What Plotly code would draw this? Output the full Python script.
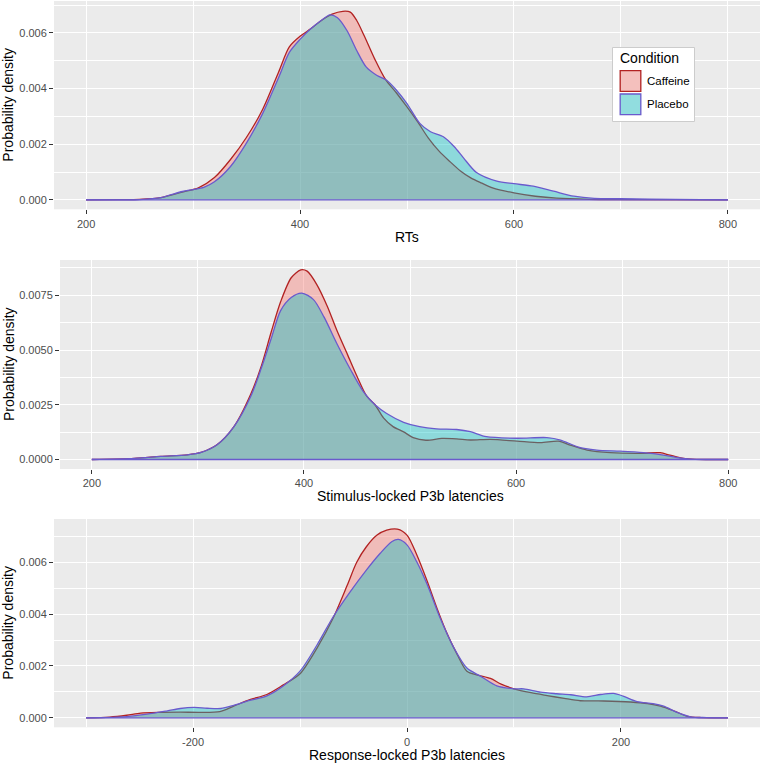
import plotly.graph_objects as go

# ---------------- data ----------------
rt_caf_x = [200, 230, 250, 270, 290, 305, 320, 335, 350, 365, 380, 390, 400, 410, 420, 430, 440, 447, 453, 460,
            470, 480, 490, 500, 510, 520, 530, 540, 550, 560, 570, 580, 600, 620, 640, 670, 700, 800]
rt_caf_y = [0, 0.00001, 0.00002, 0.00008, 0.00028, 0.00043, 0.0008, 0.00145, 0.00225, 0.00325, 0.0046, 0.0055,
            0.00588, 0.00615, 0.00645, 0.00668, 0.00678, 0.00675, 0.00645, 0.0059, 0.00505, 0.00432, 0.00385,
            0.00334, 0.0028, 0.00222, 0.00175, 0.00138, 0.00104, 0.00078, 0.0006, 0.00043, 0.00025, 0.00013,
            0.00006, 0.00002, 0.00001, 0]
rt_pla_x = [200, 250, 270, 290, 300, 310, 320, 335, 350, 365, 380, 390, 400, 410, 420, 428, 435, 444, 453, 462,
            472, 481, 490, 500, 512, 522, 534, 544, 553, 565, 584, 600, 618, 637, 656, 675, 700, 750, 800]
rt_pla_y = [0, 0.00001, 0.00008, 0.0003, 0.00037, 0.00045, 0.00065, 0.0012, 0.00205, 0.0031, 0.0044, 0.0053,
            0.00577, 0.00615, 0.00646, 0.00665, 0.00655, 0.00608, 0.00537, 0.00477, 0.00447, 0.0043, 0.00395,
            0.00346, 0.00275, 0.00245, 0.00227, 0.00192, 0.0015, 0.00098, 0.00067, 0.00058, 0.00049, 0.00031,
            0.00013, 0.00005, 0.00004, 0.00002, 0]

sl_caf_x = [200, 240, 265, 290, 303, 318, 334, 350, 360, 369, 378, 388, 397, 403, 412, 422, 431, 441, 450, 459,
            467, 475, 484, 494, 503, 515, 530, 544, 557, 576, 601, 623, 640, 651, 667, 689, 717, 736, 745, 758,
            770, 800]
sl_caf_y = [0, 0.00005, 0.00014, 0.00021, 0.00032, 0.00067, 0.0015, 0.003, 0.0043, 0.0058, 0.0072, 0.0083,
            0.00866, 0.0086, 0.008, 0.007, 0.0059, 0.0048, 0.0038, 0.0029, 0.0025, 0.0019, 0.0015, 0.00126,
            0.001, 0.00088, 0.00096, 0.00094, 0.00089, 0.00092, 0.00084, 0.00077, 0.00084, 0.00066, 0.00043,
            0.00031, 0.00028, 0.00031, 0.0002, 0.00005, 0.00001, 0]
sl_pla_x = [200, 240, 265, 290, 303, 318, 334, 350, 360, 369, 378, 388, 398, 409, 419, 431, 444, 456, 467, 478,
            494, 509, 525, 544, 557, 572, 601, 629, 642, 658, 676, 698, 720, 739, 752, 764, 800]
sl_pla_y = [0, 0.00005, 0.00014, 0.00021, 0.00032, 0.00067, 0.0015, 0.0029, 0.0042, 0.0055, 0.0068, 0.0074,
            0.0076, 0.0073, 0.0065, 0.0053, 0.0041, 0.0031, 0.0025, 0.0021, 0.0017, 0.0015, 0.0014, 0.00137,
            0.00127, 0.00104, 0.00097, 0.001, 0.00089, 0.00058, 0.00043, 0.00038, 0.00031, 0.0002, 0.00009,
            0.00002, 0]

rl_caf_x = [-300, -278, -262, -249, -231, -212, -194, -175, -162, -147, -131, -116, -100, -84, -69, -56, -47,
            -38, -28, -19, -9, 0, 9, 19, 28, 38, 47, 56, 66, 78, 88, 100, 116, 131, 147, 162, 184, 209, 225,
            237, 250, 262, 275, 300]
rl_caf_y = [0, 0.00003, 0.0001, 0.00018, 0.00021, 0.00022, 0.00021, 0.00024, 0.00045, 0.0007, 0.0009, 0.00126,
            0.0017, 0.0027, 0.00385, 0.0051, 0.006, 0.0066, 0.00705, 0.00724, 0.00728, 0.00705, 0.0063,
            0.00526, 0.00423, 0.0032, 0.00244, 0.0018, 0.00165, 0.00152, 0.0013, 0.00112, 0.00097, 0.00086,
            0.00075, 0.00066, 0.00065, 0.00061, 0.00055, 0.00045, 0.00026, 0.00006, 0.00001, 0]
rl_pla_x = [-300, -262, -243, -224, -212, -199, -187, -174, -162, -147, -131, -116, -100, -84, -69, -53, -38,
            -25, -14, -8, 0, 9, 19, 31, 44, 56, 69, 84, 100, 109, 125, 140, 153, 168, 181, 193, 202, 215, 230,
            240, 252, 265, 280, 300]
rl_pla_y = [0, 0.00005, 0.00014, 0.00027, 0.00036, 0.0004, 0.00037, 0.00036, 0.00048, 0.00067, 0.00085,
            0.00122, 0.0018, 0.00282, 0.0039, 0.00487, 0.0057, 0.00635, 0.0068, 0.00688, 0.00667, 0.00603,
            0.00513, 0.00385, 0.00269, 0.00192, 0.0016, 0.00123, 0.00112, 0.00112, 0.00099, 0.00093, 0.00089,
            0.00081, 0.0009, 0.00094, 0.00084, 0.00063, 0.00055, 0.00045, 0.00022, 0.00004, 0.00001, 0]

conditions = ["Caffeine", "Placebo"]
x_titles = ["RTs", "Stimulus-locked P3b latencies", "Response-locked P3b latencies"]
y_title = "Probability density"

# ---------------- styling ----------------
W, H = 761, 764
FILL = {"Caffeine": "rgba(248,118,109,0.4)", "Placebo": "rgba(0,191,196,0.4)"}
LINE = {"Caffeine": "#B22222", "Placebo": "#6A5ACD"}
FONT = "Liberation Sans, Arial, Helvetica, sans-serif"
BG = "#EBEBEB"


def px_x(p):
    return p / W


def px_y(p):
    return 1 - p / H


panels = [
    dict(series=[(rt_caf_x, rt_caf_y), (rt_pla_x, rt_pla_y)], dom_x=(54, 760), dom_y=(1, 209.3),
         xr=[170, 830], yr=[-0.00034, 0.00715], xt=[200, 400, 600, 800], xm=[300, 500, 700],
         yt=[0, 0.002, 0.004, 0.006], ym=[0.001, 0.003, 0.005, 0.007], yfmt=".3f", title_y=237),
    dict(series=[(sl_caf_x, sl_caf_y), (sl_pla_x, sl_pla_y)], dom_x=(60, 760), dom_y=(260, 469),
         xr=[170, 830], yr=[-0.000434, 0.00911], xt=[200, 400, 600, 800], xm=[300, 500, 700],
         yt=[0, 0.0025, 0.005, 0.0075], ym=[0.00125, 0.00375, 0.00625, 0.00875], yfmt=".4f", title_y=495.5),
    dict(series=[(rl_caf_x, rl_caf_y), (rl_pla_x, rl_pla_y)], dom_x=(54, 760), dom_y=(519, 727.3),
         xr=[-330, 330], yr=[-0.000365, 0.00767], xt=[-200, 0, 200], xm=[-300, -100, 100, 300],
         yt=[0, 0.002, 0.004, 0.006], ym=[0.001, 0.003, 0.005, 0.007], yfmt=".3f", title_y=754.5),
]

fig = go.Figure()
layout = dict(width=W, height=H, margin=dict(l=0, r=0, t=0, b=0), paper_bgcolor="white",
              plot_bgcolor=BG, showlegend=False, font=dict(family=FONT))
annotations = []
shapes = []

for i, p in enumerate(panels):
    n = "" if i == 0 else str(i + 1)
    xa, ya = "x" + n, "y" + n
    for cond, (xs, ys) in zip(conditions, p["series"]):
        fig.add_trace(go.Scatter(x=xs, y=ys, mode="lines", fill="tozeroy", fillcolor=FILL[cond],
                                 line=dict(color=LINE[cond], width=1.3, shape="spline", smoothing=0.8),
                                 name=cond, xaxis=xa, yaxis=ya, hoverinfo="skip"))
    # baseline of the density outline (Placebo drawn last)
    allx = p["series"][0][0] + p["series"][1][0]
    fig.add_trace(go.Scatter(x=[min(allx), max(allx)], y=[0, 0], mode="lines",
                             line=dict(color=LINE["Placebo"], width=1.3), xaxis=xa, yaxis=ya,
                             hoverinfo="skip"))
    common = dict(showline=False, zeroline=False, ticks="outside", ticklen=4, tickwidth=1,
                  tickcolor="#333333", showgrid=True, gridcolor="white", gridwidth=1.1,
                  tickfont=dict(size=11, color="#4D4D4D", family=FONT))
    layout["xaxis" + n] = dict(common, domain=[px_x(p["dom_x"][0]), px_x(p["dom_x"][1])], range=p["xr"],
                               anchor=ya, tickmode="array", tickvals=p["xt"],
                               ticktext=[str(v) for v in p["xt"]],
                               minor=dict(tickmode="array", tickvals=p["xm"], showgrid=True,
                                          gridcolor="white", gridwidth=0.5, ticks=""))
    layout["yaxis" + n] = dict(common, domain=[px_y(p["dom_y"][1]), px_y(p["dom_y"][0])], range=p["yr"],
                               anchor=xa, tickmode="array", tickvals=p["yt"],
                               ticktext=[format(v, p["yfmt"]) for v in p["yt"]],
                               minor=dict(tickmode="array", tickvals=p["ym"], showgrid=True,
                                          gridcolor="white", gridwidth=0.5, ticks=""))
    cx = (p["dom_x"][0] + p["dom_x"][1]) / 2
    cy = (p["dom_y"][0] + p["dom_y"][1]) / 2
    annotations.append(dict(text=x_titles[i], xref="paper", yref="paper", x=px_x(cx), y=px_y(p["title_y"]),
                            xanchor="center", yanchor="middle", showarrow=False,
                            font=dict(size=14, color="black", family=FONT)))
    annotations.append(dict(text=y_title, xref="paper", yref="paper", x=px_x(8.5), y=px_y(cy),
                            xanchor="center", yanchor="middle", showarrow=False, textangle=-90,
                            font=dict(size=14, color="black", family=FONT)))

# ---------------- legend (drawn manually, ggplot style) ----------------
shapes.append(dict(type="rect", xref="paper", yref="paper", x0=px_x(612.5), x1=px_x(694.5),
                   y0=px_y(121.5), y1=px_y(47.5), fillcolor="white", line=dict(color="#CCCCCC", width=1)))
annotations.append(dict(text="Condition", xref="paper", yref="paper", x=px_x(617.5), y=px_y(58.5),
                        xanchor="left", yanchor="middle", showarrow=False,
                        font=dict(size=14, color="black", family=FONT)))
for k, cond in enumerate(conditions):
    top = [70, 93.3][k]
    shapes.append(dict(type="rect", xref="paper", yref="paper", x0=px_x(619.5), x1=px_x(641.5),
                       y0=px_y(top + 22), y1=px_y(top), fillcolor="#F2F2F2", line=dict(width=0)))
    shapes.append(dict(type="rect", xref="paper", yref="paper", x0=px_x(620.2), x1=px_x(640.8),
                       y0=px_y(top + 21.3), y1=px_y(top + 0.7), fillcolor=FILL[cond],
                       line=dict(color=LINE[cond], width=1.3)))
    annotations.append(dict(text=cond, xref="paper", yref="paper", x=px_x(645), y=px_y(top + 11),
                            xanchor="left", yanchor="middle", showarrow=False,
                            font=dict(size=11.5, color="black", family=FONT)))

layout["annotations"] = annotations
layout["shapes"] = shapes
fig.update_layout(**layout)
fig.write_html("out.html", config={"displayModeBar": False},
               post_script="document.body.style.margin='0px';document.body.style.overflow='hidden';")
